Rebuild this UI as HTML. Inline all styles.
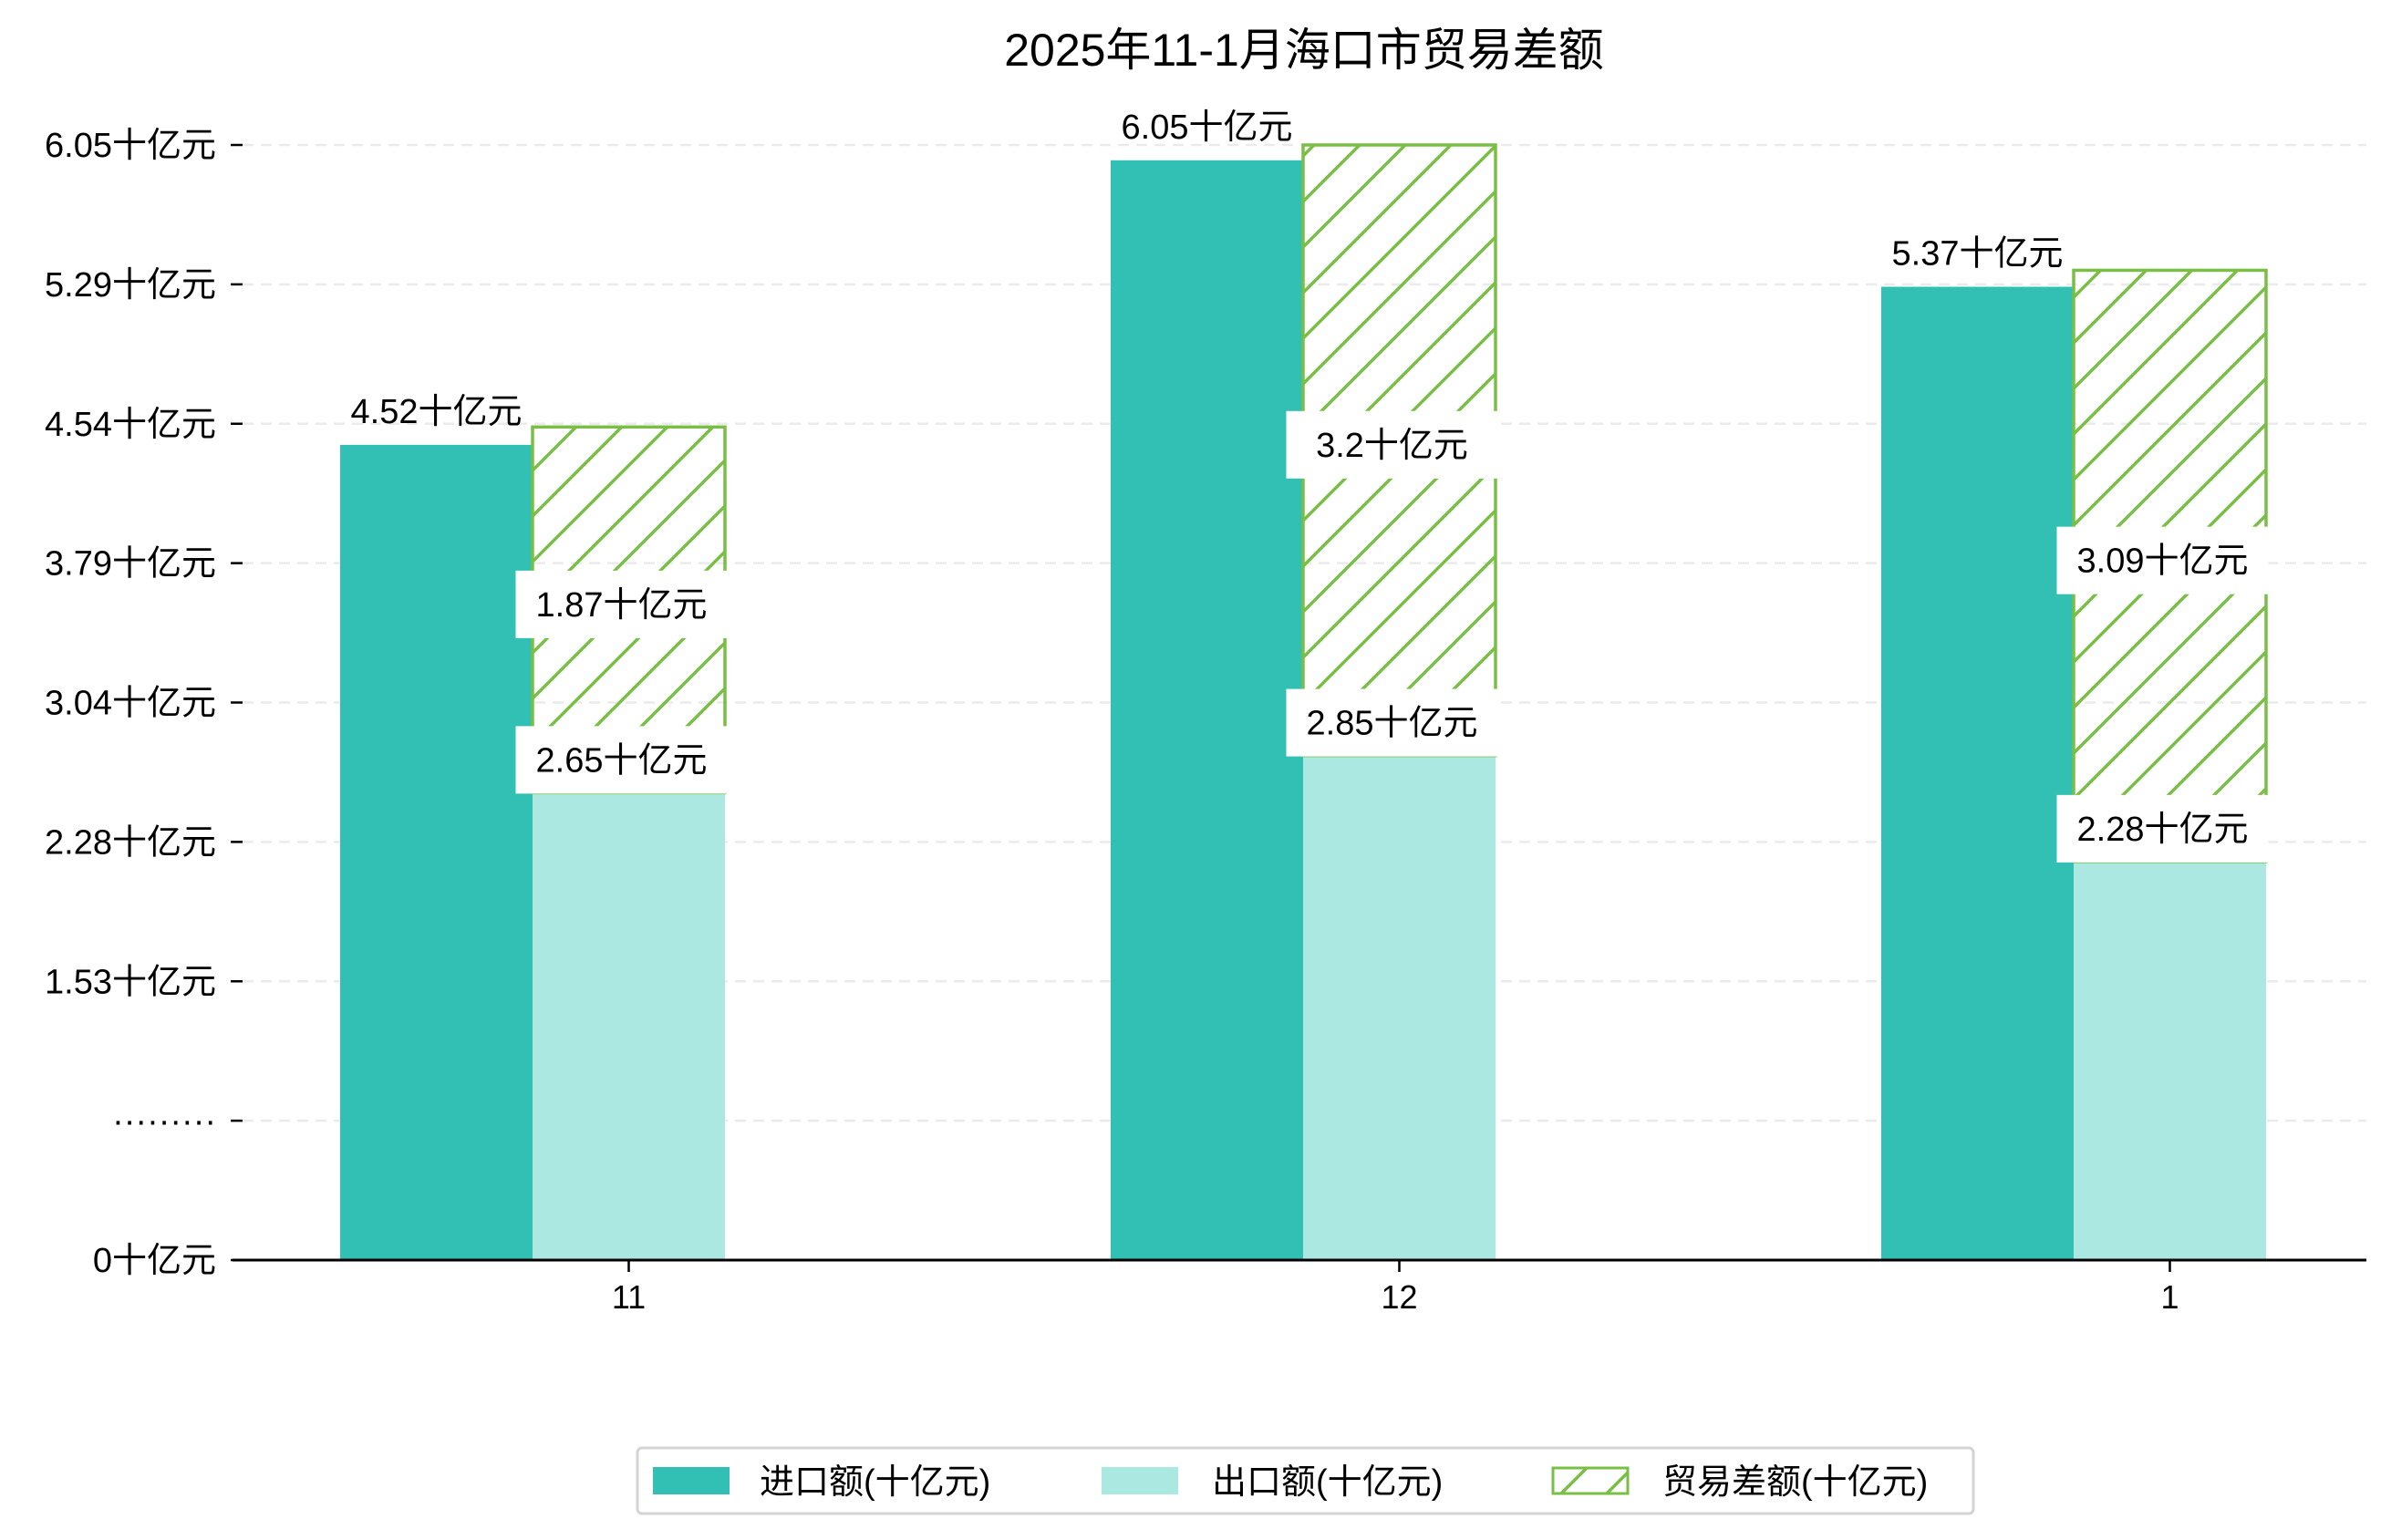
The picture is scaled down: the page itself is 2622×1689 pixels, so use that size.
<!DOCTYPE html>
<html><head><meta charset="utf-8">
<style>
html,body{margin:0;padding:0;background:#fff;}
svg{display:block;font-family:"Liberation Sans","Noto Sans CJK SC",sans-serif;}
</style></head>
<body>
<svg id="chart" width="2622" height="1689" viewBox="0 0 2622 1689" xmlns="http://www.w3.org/2000/svg">
<defs>
<pattern id="hatch" patternUnits="userSpaceOnUse" width="50" height="50">
<path d="M-5,5 L5,-5 M0,50 L50,0 M45,55 L55,45" stroke="#79bf45" stroke-width="3.5"/>
</pattern>
</defs>
<text x="1430" y="72" font-size="50" text-anchor="middle" fill="#000">2025年11-1月海口市贸易差额</text>
<g id="grid"></g>
<g id="bars"></g>
<g id="labels"></g>
<g id="axes"></g>
<g>
<rect x="699" y="1588" width="1465" height="72" rx="5" fill="#fff" stroke="#d4d4d4" stroke-width="3"/>
<rect x="716" y="1609" width="84" height="30" fill="#31c0b3"/>
<text x="833" y="1638" font-size="38">进口额(十亿元)</text>
<rect x="1208" y="1609" width="84" height="30" fill="#abe8e2"/>
<text x="1329" y="1638" font-size="38">出口额(十亿元)</text>
<rect x="1703" y="1610" width="82" height="28" fill="url(#hatch)" stroke="#79bf45" stroke-width="3"/>
<text x="1823" y="1638" font-size="38">贸易差额(十亿元)</text>
</g>
</svg>
<script>
const categories = ["11", "12", "1"];
const importValues = [4.52, 6.05, 5.37];
const exportValues = [2.65, 2.85, 2.28];
const balanceValues = [1.87, 3.2, 3.09];
const yTickLabels = ["0十亿元", "·········", "1.53十亿元", "2.28十亿元", "3.04十亿元", "3.79十亿元", "4.54十亿元", "5.29十亿元", "6.05十亿元"];
const yMax = 6.05;

const NS = "http://www.w3.org/2000/svg";
const axisY = 1382, topY = 159, axisLeft = 255, axisRight = 2595;
const groupStart = 373, groupStep = 845, barW = 211;
function yAxis(v){ return axisY - v / yMax * (axisY - topY); }
function yBar(v){ return Math.min(axisY, 1410 - 204 * v); }
function xImport(i){ return groupStart + i * groupStep; }
function xExport(i){ return xImport(i) + barW; }
function mk(tag, attrs, parent){
  const e = document.createElementNS(NS, tag);
  for (const k in attrs) e.setAttribute(k, attrs[k]);
  parent.appendChild(e);
  return e;
}
const grid = document.getElementById('grid');
const bars = document.getElementById('bars');
const labels = document.getElementById('labels');
const axes = document.getElementById('axes');

const nT = yTickLabels.length;
yTickLabels.forEach((t, i) => {
  const y = axisY - i * (axisY - topY) / (nT - 1);
  if (i > 0) {
    const g = mk('line', {x1: 266, x2: axisRight, y1: y, y2: y, stroke: '#ebebeb', 'stroke-width': 2.5, 'stroke-dasharray': '12,8'}, grid);
    
    
  }
  const tk = mk('line', {x1: 253, x2: 266, y1: y, y2: y, stroke: '#000', 'stroke-width': 2.5}, axes);
  
  
  const tx = mk('text', {x: 237, y: y + 13, 'font-size': 38, 'text-anchor': 'end', fill: '#000'}, axes);
  tx.textContent = t;
  
  
});

const ax = mk('line', {x1: axisLeft, x2: axisRight, y1: axisY, y2: axisY, stroke: '#000', 'stroke-width': 3}, axes);



function boxLabel(text, cx, cy, name){
  const g = mk('g', {}, labels);
  
  
  const w = 232, h = 74;
  mk('rect', {x: cx - w / 2, y: cy - h / 2, width: w, height: h, fill: '#fff'}, g);
  const t = mk('text', {x: cx, y: cy + 13, 'font-size': 38, 'text-anchor': 'middle', fill: '#000'}, g);
  t.textContent = text;
}

categories.forEach((c, i) => {
  const xi = xImport(i), xe = xExport(i);
  const yi = yBar(importValues[i]);
  const b1 = mk('rect', {x: xi, y: yi, width: barW, height: axisY - yi, fill: '#31c0b3'}, bars);
  
  
  const ye = yBar(exportValues[i]);
  const b2 = mk('rect', {x: xe, y: ye, width: barW, height: axisY - ye, fill: '#abe8e2'}, bars);
  
  
  const yt = yAxis(exportValues[i] + balanceValues[i]);
  const b3 = mk('rect', {x: xe, y: yt, width: barW, height: ye - yt, fill: 'url(#hatch)', stroke: '#79bf45', 'stroke-width': 3.5}, bars);
  
  

  const tl = mk('text', {x: xi + barW / 2, y: yi - 24, 'font-size': 38, 'text-anchor': 'middle', fill: '#000'}, labels);
  tl.textContent = importValues[i] + '十亿元';
  
  

  boxLabel(balanceValues[i] + '十亿元', xe + barW / 2 - 8, (yt + ye) / 2 - 6, 'balance-value-label');
  boxLabel(exportValues[i] + '十亿元', xe + barW / 2 - 8, ye - 36, 'export-value-label');

  const cx = xe + barW / 2;
  const xt = mk('line', {x1: cx, x2: cx, y1: axisY, y2: axisY + 13, stroke: '#000', 'stroke-width': 2.5}, axes);
  
  
  const xl = mk('text', {x: cx, y: axisY + 53, 'font-size': 36, 'text-anchor': 'middle', fill: '#000'}, axes);
  xl.textContent = c;
  
  
});
</script>
</body></html>
